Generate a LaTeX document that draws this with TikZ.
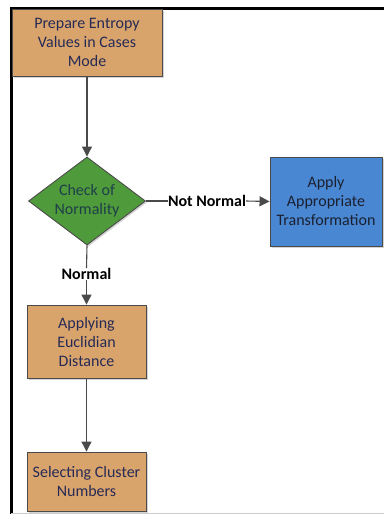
\documentclass[tikz,border=0pt]{standalone}
\usepackage{fontspec}
\setmainfont{Carlito}
\usetikzlibrary{arrows.meta,shapes.geometric,shadows}
\definecolor{tanfill}{HTML}{D9A46C}
\definecolor{greenfill}{HTML}{4F9A3B}
\definecolor{bluefill}{HTML}{4A87D2}
\definecolor{edgegray}{HTML}{4A4A4A}
\definecolor{navytext}{HTML}{262A55}
\definecolor{tealtext}{HTML}{1F3F4A}
\definecolor{boxtext}{HTML}{1A2030}
\tikzset{
  flowbox/.style={draw=edgegray, line width=0.9pt, fill=tanfill, align=center,
    text=navytext, inner sep=0pt, font=\fontsize{16}{19}\selectfont,
    drop shadow={shadow xshift=1.5pt, shadow yshift=-1.5pt, opacity=0.35}},
  bluebox/.style={flowbox, fill=bluefill, text=boxtext},
  decision/.style={diamond, draw=edgegray, line width=0.9pt, fill=greenfill,
    align=center, text=tealtext, inner sep=0pt, aspect=1.33,
    font=\fontsize{16}{19}\selectfont,
    drop shadow={shadow xshift=1.5pt, shadow yshift=-1.5pt, opacity=0.35}},
  conn/.style={draw=edgegray, line width=1.1pt},
  arr/.style={conn, -{Triangle[width=10pt,length=10pt]}},
  lbl/.style={font=\bfseries\fontsize{16}{18}\selectfont, text=black, inner sep=0pt, fill=white}
}
\begin{document}
\begin{tikzpicture}[x=1pt, y=-1pt]
\useasboundingbox (0,0) rectangle (384,514);
% frame
\draw[line width=3pt, black] (10,8) -- (384,8);
\draw[line width=3pt, black] (11,6.5) -- (11,514);
\draw[line width=0.8pt, gray!40] (11,513) -- (384,513);
% nodes
\node[flowbox, minimum width=150pt, minimum height=67pt] (prep) at (87,42.5) {Prepare Entropy\\Values in Cases\\Mode};
\node[decision, minimum width=117pt, minimum height=88pt] (check) at (87,201) {Check of\\Normality};
\node[bluebox, minimum width=112pt, minimum height=89pt] (apply) at (326,201.5) {Apply\\Appropriate\\Transformation};
\node[flowbox, minimum width=119pt, minimum height=73pt] (eucl) at (86.5,341.5) {Applying\\Euclidian\\Distance};
\node[flowbox, minimum width=119pt, minimum height=59pt] (sel) at (86.5,481.5) {Selecting Cluster\\Numbers};
% connectors
\draw[arr] (prep.south -| check.north) -- (check.north);
\node[lbl] (nn) at (207,201) {Not Normal};
\draw[conn] (check.east) -- (nn.west);
\draw[arr] (nn.east) -- (apply.west);
\node[lbl] (nm) at (86.5,274) {Normal};
\draw[conn] (check.south) -- (nm.north);
\draw[arr] (nm.south) -- (eucl.north);
\draw[arr] (eucl.south) -- (sel.north);
\end{tikzpicture}
\end{document}
